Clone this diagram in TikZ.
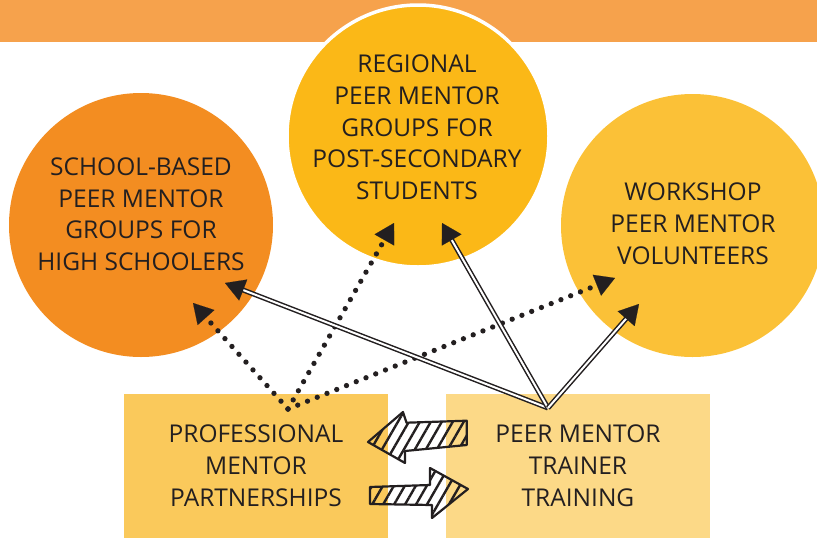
\documentclass[tikz,border=0pt]{standalone}
\usepackage{fontspec}
\setmainfont{Open Sans}
\usetikzlibrary{arrows.meta,calc,patterns.meta}
\definecolor{barc}{HTML}{F6A24C}
\definecolor{lcirc}{HTML}{F38D21}
\definecolor{mcirc}{HTML}{FBB817}
\definecolor{rcirc}{HTML}{FBC137}
\definecolor{lbox}{HTML}{FAC95B}
\definecolor{rbox}{HTML}{FCD987}
\definecolor{ink}{HTML}{231F20}
\begin{document}
\begin{tikzpicture}[x=1pt,y=-1pt,
  txt/.style={align=center, inner sep=0pt, font=\fontsize{24.5}{31.8}\selectfont, text=ink},
  disc/.style={circle, inner sep=0pt, minimum size=#1},
  panel/.style={rectangle, inner sep=0pt, minimum width=264pt, minimum height=144pt, txt},
  dots/.style={draw=ink, line width=5.3pt, line cap=round, dash pattern=on 0pt off 10.5pt, shorten >=17pt},
  dbl/.style={draw=ink, line width=1.5pt, double=white, double distance=2pt, shorten >=17pt},
  tiphead/.style={draw=ink, line width=0.1pt, -{Triangle[length=19.5pt,width=22.5pt]}},
  hatch/.style={draw=ink, line width=2.2pt, line join=round, pattern={Lines[angle=60,distance=9.5pt,line width=2.4pt]}, pattern color=ink}]
\useasboundingbox (0,0) rectangle (817,541);
\fill[barc] (0,0) rectangle (817,42);
% circles
\node[disc=264pt, fill=lcirc] (lc) at (141,225) {};
\node[disc=262pt, fill=mcirc, draw=white, line width=3.5pt] (mc) at (418,136) {};
\node[disc=263pt, fill=rcirc] (rc) at (692.5,225.5) {};
% circle texts
\node[txt] (lct) at (141,214.3) {SCHOOL-BASED\\PEER MENTOR\\GROUPS FOR\\HIGH SCHOOLERS};
\node[txt] (mct) at (417,127.4) {REGIONAL\\PEER MENTOR\\GROUPS FOR\\POST-SECONDARY\\STUDENTS};
\node[txt] (rct) at (693,224) {WORKSHOP\\PEER MENTOR\\VOLUNTEERS};
% boxes
\node[panel, fill=lbox] (pmp) at (256,466) {PROFESSIONAL\\MENTOR\\PARTNERSHIPS};
\node[panel, fill=rbox] (pmt) at (578,466) {PEER MENTOR\\TRAINER\\TRAINING};
% hatched block arrows
\draw[hatch] (368,442) -- (403,412) -- (406.5,422.7) -- (466.7,420.7) -- (466.7,445) -- (405,451) -- (405,463) -- cycle;
\draw[hatch] (370,487) -- (430,485) -- (430,468) -- (468,489) -- (432,518) -- (432,505) -- (370,504) -- cycle;
% origins and targets
\coordinate (ds) at (288,409);
\coordinate (es) at (548,408);
\coordinate (d1) at (193,303);
\coordinate (d2) at (394,223);
\coordinate (d3) at (615,278);
\coordinate (e1) at (225,283);
\coordinate (e2) at (442,223);
\coordinate (e3) at (639,304);
% dotted arrows
\foreach \t in {d1,d2,d3}{
  \draw[dots] (ds) -- (\t);
  \draw[tiphead] ($(\t)!19.5pt!(ds)$) -- (\t);
}
% double arrows
\foreach \t in {e1,e2,e3}{
  \draw[dbl] (es) -- (\t);
  \draw[tiphead] ($(\t)!19.5pt!(es)$) -- (\t);
}
\end{tikzpicture}
\end{document}
